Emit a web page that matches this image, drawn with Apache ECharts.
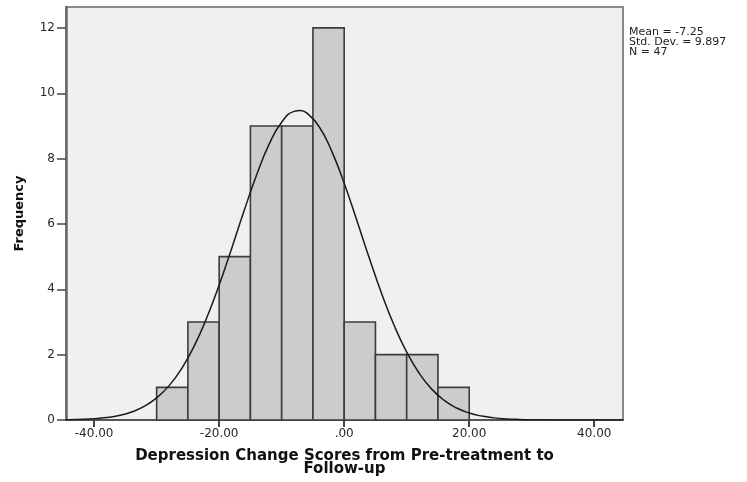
<!DOCTYPE html>
<html><head><meta charset="utf-8">
<script src="https://cdn.jsdelivr.net/npm/echarts@6/dist/echarts.min.js"></script>
<style>html,body{margin:0;padding:0;background:#fff}#c{width:747px;height:482px}</style>
</head><body><div id="c"></div>
<script>
// Histogram bins (lower edge, upper edge) and frequencies
const binStarts = [-30, -25, -20, -15, -10, -5, 0, 5, 10, 15];
const binEnds = [-25, -20, -15, -10, -5, 0, 5, 10, 15, 20];
const frequencies = [1, 3, 5, 9, 9, 12, 3, 2, 2, 1];

// Normal curve (x value, frequency height)
const curveX = [-44.5, -44, -42, -40, -38, -36, -34, -32, -30, -28, -26, -24, -22, -20, -18, -16, -14, -12, -10, -8, -7, -6, -4, -2, 0, 2, 4, 6, 8, 10, 12, 14, 16, 18, 20, 22, 24, 26, 28, 30, 32, 34, 36, 38, 40, 42, 44, 44.6];
const curveY = [0.008, 0.010, 0.020, 0.040, 0.076, 0.139, 0.246, 0.415, 0.675, 1.052, 1.575, 2.262, 3.121, 4.131, 5.252, 6.409, 7.508, 8.443, 9.114, 9.446, 9.470, 9.398, 8.976, 8.229, 7.244, 6.121, 4.965, 3.866, 2.890, 2.075, 1.430, 0.945, 0.600, 0.366, 0.214, 0.120, 0.065, 0.034, 0.017, 0.008, 0.004, 0.002, 0.001, 0.000, 0.000, 0.000, 0.000, 0.000];

// Tick labels
const xTickValues = [-40, -20, 0, 20, 40];
const yTickValues = [0, 2, 4, 6, 8, 10, 12];

const statsLines = ['Mean = -7.25', 'Std. Dev. = 9.897', 'N = 47'];
const xTitle = 'Depression Change Scores from Pre-treatment to\nFollow-up';
const yTitle = 'Frequency';

const histData = binStarts.map((s, i) => [s, binEnds[i], frequencies[i]]);
const curveData = curveX.map((x, i) => [x, curveY[i]]);

const chart = echarts.init(document.getElementById('c'), null, {renderer: 'canvas'});
const FONT = 'DejaVu Sans';
chart.setOption({
  animation: false,
  backgroundColor: '#ffffff',
  grid: {
    left: 66, right: 124, top: 7, bottom: 62,
    show: true, backgroundColor: '#f0f0f0', borderColor: '#8a8a8a', borderWidth: 2
  },
  xAxis: {
    type: 'value', min: -44.5, max: 44.6,
    splitLine: {show: false},
    axisLine: {show: true, onZero: false, lineStyle: {color: '#555', width: 2}},
    axisTick: {show: true, length: 7, lineStyle: {color: '#444', width: 2}, customValues: xTickValues},
    axisLabel: {
      customValues: xTickValues, margin: 8, color: '#2a2a2a', fontFamily: FONT, fontSize: 12,
      formatter: v => (v === 0 ? '.00' : v.toFixed(2))
    },
    name: xTitle, nameLocation: 'middle', nameGap: 30,
    nameTextStyle: {fontFamily: FONT, fontWeight: 'bold', fontSize: 15, lineHeight: 12.5, color: '#111'}
  },
  yAxis: {
    type: 'value', min: 0, max: 12.64,
    splitLine: {show: false},
    axisLine: {show: true, onZero: false, lineStyle: {color: '#6a6a6a', width: 2.5}},
    axisTick: {show: true, length: 9, lineStyle: {color: '#444', width: 1.5}, customValues: yTickValues},
    axisLabel: {customValues: yTickValues, margin: 11, color: '#2a2a2a', fontFamily: FONT, fontSize: 12},
    name: yTitle, nameLocation: 'middle', nameGap: 40, nameRotate: 90,
    nameTextStyle: {fontFamily: FONT, fontWeight: 'bold', fontSize: 13, color: '#111'}
  },
  graphic: [{
    type: 'text', left: 629, top: 27, silent: true,
    style: {text: statsLines.join('\n'), font: '11px "DejaVu Sans"', lineHeight: 10, fill: '#222'}
  }],
  series: [{
    type: 'custom',
    data: histData,
    encode: {x: [0, 1], y: 2},
    renderItem: function (params, api) {
      const p0 = api.coord([api.value(0), api.value(2)]);
      const p1 = api.coord([api.value(1), 0]);
      return {
        type: 'rect',
        shape: {x: p0[0], y: p0[1], width: p1[0] - p0[0], height: p1[1] - p0[1]},
        style: {fill: '#cccccc', stroke: '#3c3c3c', lineWidth: 1.6}
      };
    },
    z: 2
  }, {
    type: 'line',
    data: curveData,
    smooth: true,
    showSymbol: false,
    symbol: 'none',
    lineStyle: {color: '#1a1a1a', width: 1.5},
    z: 3
  }]
});
</script>
</body></html>
